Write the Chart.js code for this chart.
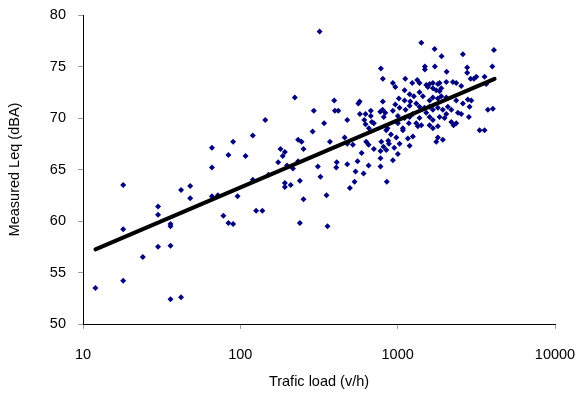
<!DOCTYPE html>
<html><head><meta charset="utf-8">
<script src="https://cdn.jsdelivr.net/npm/chart.js@4.4.1/dist/chart.umd.min.js"></script>
<style>html,body{margin:0;padding:0;background:#fff;}</style>
</head><body>
<canvas id="c" width="579" height="393"></canvas>
<script>
const trafficLoad = [12,18,18,18,24,30,30,30,36,36,36,36,42,42,48,48,66,66,66,72,78,84,84,90,90,96,
108,120,120,126,138,144,151,174,180,186,192,192,192,198,209,216,222,233,233,239,239,245,252,252,
288,293,311,319,323,341,353,358,371,395,399,419,407,410,460,478,478,478,497,519,532,540,556,562,573,575,
590,607,614,625,625,631,653,653,656,675,675,685,706,706,778,778,778,782,787,775,805,805,802,813,816,834,
853,862,871,880,906,932,932,951,966,966,980,1003,1003,1018,
1413,1717,1901,2597,4090,3995,1489,1489,1724,2047,2767,2767,3160,3051,2908,3567,3656,
1117,1238,1332,1377,1520,1595,1674,1801,1846,2038,2244,2358,2535,1556,1674,1759,1846,1892,
1106,1191,1268,1377,1446,1106,1202,1313,1595,1674,1801,1892,2038,2358,2597,2792,2938,2864,
932,1028,1123,1191,1377,1483,1595,1674,1801,1937,2084,2192,2415,2535,2836,3745,4027,
1106,1191,1249,1377,1520,1595,1674,1846,1986,2038,2192,2267,2358,
1003,1079,1178,1313,1343,1413,1595,1674,1801,3317,3567,846,1079,1249,1161,1801,1937,1759,1028,1191,846];
const measuredLeq = [53.5,63.5,59.2,54.2,56.5,61.4,60.6,57.5,59.7,59.5,57.6,52.4,63.0,52.6,63.4,62.2,67.1,65.2,62.4,62.5,60.5,66.4,59.8,67.7,59.7,62.4,
66.3,68.3,64.0,61.0,61.0,69.8,64.5,65.7,67.0,66.3,66.7,63.7,63.3,65.4,63.5,65.1,72.0,65.8,67.9,63.9,59.8,67.7,67.0,62.1,
68.7,70.7,65.3,78.4,64.3,69.5,62.5,59.5,67.7,71.7,70.7,70.7,65.2,65.7,68.1,69.8,67.5,65.5,63.2,67.4,63.8,64.8,65.8,71.4,71.6,70.4,
66.6,64.6,69.8,70.4,69.4,67.7,67.4,65.4,69.0,70.7,70.2,69.6,69.5,67.0,66.1,65.3,66.8,74.8,67.7,70.6,73.8,71.6,70.8,67.2,70.1,70.5,
63.8,69.0,67.8,67.5,68.4,65.9,73.4,67.1,73.0,71.3,68.1,66.5,70.2,71.9,
77.3,76.7,76.0,76.2,76.6,75.0,75.0,74.7,75.0,74.5,74.9,74.4,74.0,73.8,73.8,74.0,73.3,
73.8,73.4,73.7,73.4,73.2,73.3,73.4,73.3,73.4,73.5,73.5,73.4,73.1,73.0,72.9,72.7,72.6,72.9,
72.7,72.3,72.1,72.5,72.1,71.7,71.6,71.4,71.7,72.0,71.9,72.1,72.0,71.7,71.4,71.8,71.7,71.1,
70.7,71.0,70.8,71.2,71.1,71.0,71.1,70.8,71.0,70.8,71.1,70.8,70.5,70.4,70.1,70.8,70.9,
70.0,70.1,70.4,70.0,70.5,70.1,69.8,70.1,70.0,70.4,69.6,69.3,69.5,
69.5,69.0,69.5,69.5,69.2,69.3,69.3,69.0,69.2,68.8,68.8,68.8,68.8,68.2,68.0,68.1,67.9,67.7,67.5,67.3,66.9];
const trendLoad = [12, 4130];
const trendLeq = [57.25, 73.8];
const xTickValues = [10, 100, 1000, 10000];
const yTickValues = [50, 55, 60, 65, 70, 75, 80];
const xTitle = 'Trafic load (v/h)';
const yTitle = 'Measured Leq (dBA)';

const font = {family: '"Liberation Sans", Arial, sans-serif', size: 14.5};
const scatterData = trafficLoad.map((x, i) => ({x: x, y: measuredLeq[i]}));
const trendData = trendLoad.map((x, i) => ({x: x, y: trendLeq[i]}));

new Chart(document.getElementById('c'), {
  type: 'scatter',
  data: {datasets: [
    {data: trendData, showLine: true, borderColor: '#000', borderWidth: 4, pointRadius: 0, borderCapStyle: 'round'},
    {data: scatterData, pointStyle: 'rectRot', pointRadius: 3, backgroundColor: '#000080', borderColor: '#000080', borderWidth: 0}
  ]},
  options: {
    responsive: false, animation: false,
    layout: {padding: {left: 0, top: 15, right: 24, bottom: 0}},
    plugins: {legend: {display: false}, tooltip: {enabled: false}},
    scales: {
      x: {
        type: 'logarithmic', min: 10, max: 10000,
        afterBuildTicks: s => { s.ticks = xTickValues.map(v => ({value: v})); },
        afterFit: s => { s.height = 69; s.paddingLeft = 0; s.paddingRight = 0; },
        ticks: {font: font, color: '#000', padding: 17, maxRotation: 0, autoSkip: false, callback: v => String(v)},
        grid: {drawOnChartArea: false, drawTicks: true, tickLength: 5, color: '#a0a0a0'},
        border: {display: true, color: '#000', width: 1},
        title: {display: true, text: xTitle, font: font, color: '#000', padding: {top: 0, bottom: 2}}
      },
      y: {
        min: 50, max: 80,
        afterBuildTicks: s => { s.ticks = yTickValues.map(v => ({value: v})); },
        afterFit: s => { s.width = 83; s.paddingTop = 0; s.paddingBottom = 0; },
        ticks: {font: font, color: '#000', padding: 12},
        grid: {drawOnChartArea: false, drawTicks: true, tickLength: 5, color: '#a0a0a0'},
        border: {display: true, color: '#000', width: 1},
        title: {display: true, text: yTitle, font: font, color: '#000', padding: {top: 6, bottom: 0}}
      }
    }
  }
});
</script>
</body></html>
